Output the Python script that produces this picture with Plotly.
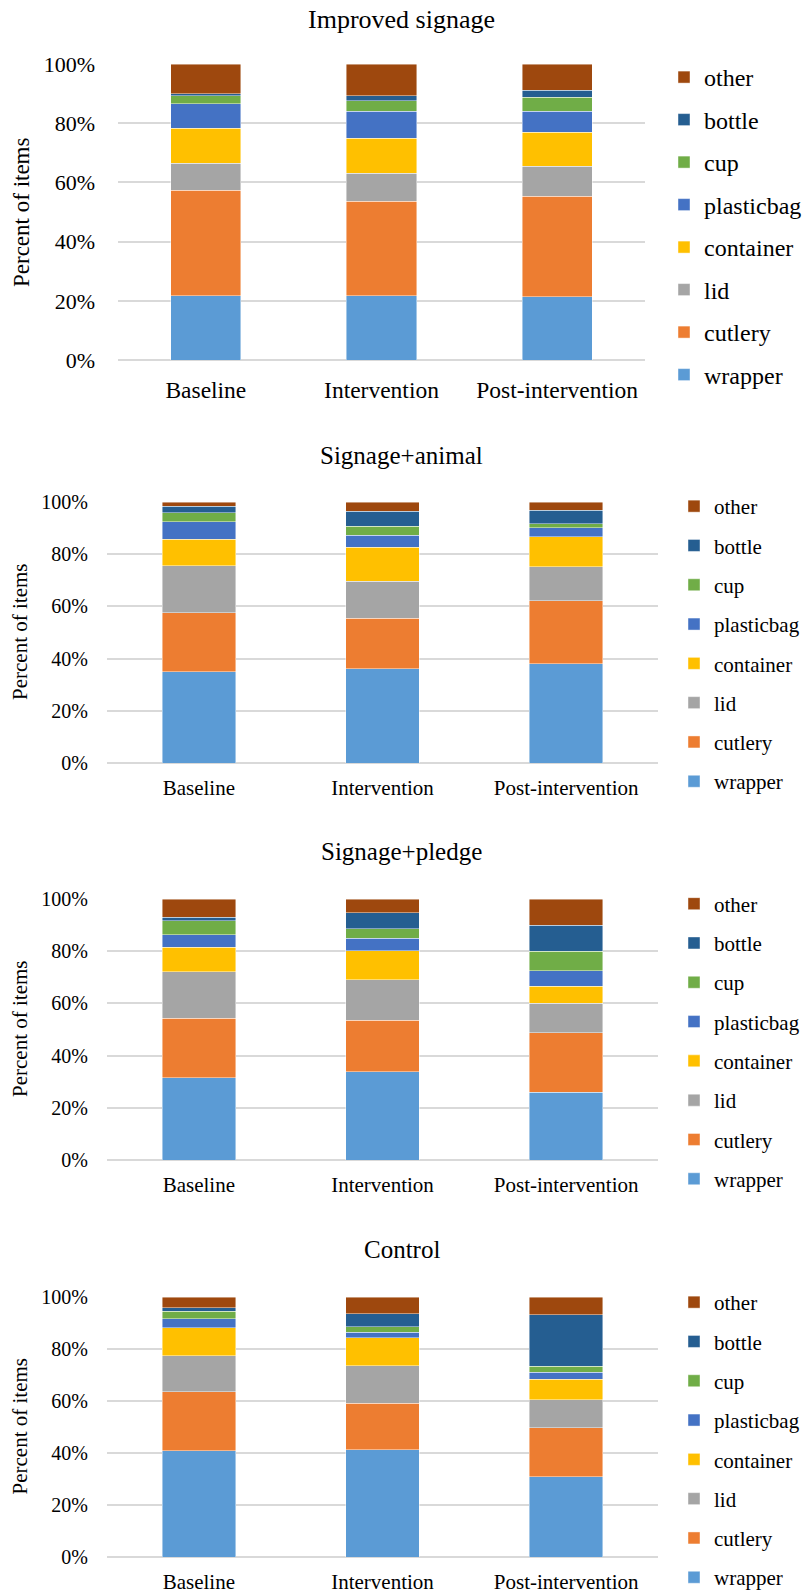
import plotly.graph_objects as go

W, H = 803, 1596

stages = ["Baseline", "Intervention", "Post-intervention"]
series = ["wrapper", "cutlery", "lid", "container", "plasticbag", "cup", "bottle", "other"]
colors = ["#5B9BD5", "#ED7D31", "#A5A5A5", "#FFC000", "#4472C4", "#70AD47", "#255E91", "#9E480E"]

# percent of items, per stage, in the order of `series`
improved_baseline = [21.7, 35.7, 9.1, 11.8, 8.3, 2.6, 0.8, 10.0]
improved_intervention = [21.7, 32.0, 9.4, 11.8, 9.1, 3.6, 1.7, 10.7]
improved_post = [21.3, 34.0, 10.2, 11.5, 7.0, 4.8, 2.4, 8.8]

animal_baseline = [35.0, 22.5, 18.1, 10.2, 6.7, 3.3, 2.5, 1.7]
animal_intervention = [36.2, 19.3, 14.2, 13.0, 4.6, 3.4, 5.8, 3.5]
animal_post = [38.1, 24.0, 13.1, 11.5, 3.5, 1.4, 5.3, 3.1]

pledge_baseline = [31.6, 22.7, 17.8, 9.4, 4.9, 5.3, 1.4, 6.9]
pledge_intervention = [33.9, 19.6, 15.6, 11.0, 4.8, 3.7, 6.2, 5.2]
pledge_post = [26.0, 22.8, 11.2, 6.6, 6.0, 7.3, 10.1, 10.0]

control_baseline = [40.8, 22.8, 13.8, 10.8, 3.4, 2.9, 1.4, 4.1]
control_intervention = [41.3, 17.9, 14.3, 10.8, 2.1, 2.1, 5.0, 6.5]
control_post = [30.9, 18.8, 10.8, 7.8, 2.8, 2.2, 19.9, 6.8]

panel_titles = ["Improved signage", "Signage+animal", "Signage+pledge", "Control"]
panel_data = [
    (improved_baseline, improved_intervention, improved_post),
    (animal_baseline, animal_intervention, animal_post),
    (pledge_baseline, pledge_intervention, pledge_post),
    (control_baseline, control_intervention, control_post),
]

FONT = "Liberation Serif, Times New Roman, serif"


def fx(x):
    return x / W


def fy(y):
    return 1 - y / H


# layout geometry (pixels)
panels = [
    dict(x0=118, x1=645, y0=64, y1=360, ty=20, tick=22, cat=23.5, leg=24, axt=23, tfs=26,
         legx=664, legc=226, gap=8.3, ystand=22, xstand=13, axx=22),
    dict(x0=107, x1=658, y0=502, y1=763, ty=455, tick=20, cat=21, leg=21, axt=21, tfs=25,
         legx=674, legc=644, gap=9, ystand=18, xstand=10, axx=19.5),
    dict(x0=107, x1=658, y0=899, y1=1160, ty=851, tick=20, cat=21, leg=21, axt=21, tfs=25,
         legx=674, legc=1041.5, gap=9, ystand=18, xstand=10, axx=19.5),
    dict(x0=107, x1=658, y0=1297, y1=1557, ty=1249, tick=20, cat=21, leg=21, axt=21, tfs=25,
         legx=674, legc=1440, gap=9, ystand=18, xstand=10, axx=19.5),
]

fig = go.Figure()
annotations = []
layout_extra = {}

for p, (geo, title, data) in enumerate(zip(panels, panel_titles, panel_data)):
    idx = "" if p == 0 else str(p + 1)
    legname = "legend" + idx
    for s, (name, col) in enumerate(zip(series, colors)):
        fig.add_trace(go.Bar(
            x=stages,
            y=[data[k][s] for k in range(3)],
            name=name,
            marker=dict(color=col, line=dict(color="rgba(255,255,255,0.55)", width=0.8)),
            xaxis="x" + idx, yaxis="y" + idx,
            legend=legname,
            legendgroup=f"p{p}_{name}",
            legendrank=100 - s,
            hovertemplate="%{x}<br>" + name + ": %{y:.1f}%<extra></extra>",
        ))
    layout_extra["xaxis" + idx] = dict(
        domain=[fx(geo["x0"]), fx(geo["x1"])],
        anchor="y" + idx,
        showgrid=False, showline=False, zeroline=False,
        tickfont=dict(family=FONT, size=geo["cat"], color="#000000"),
        ticklabelstandoff=geo["xstand"],
        fixedrange=True,
    )
    layout_extra["yaxis" + idx] = dict(
        domain=[fy(geo["y1"]), fy(geo["y0"])],
        anchor="x" + idx,
        range=[0, 100], tick0=0, dtick=20, ticksuffix="%",
        showgrid=True, gridcolor="#D9D9D9", gridwidth=2,
        zeroline=True, zerolinecolor="#D9D9D9", zerolinewidth=2,
        showline=False,
        tickfont=dict(family=FONT, size=geo["tick"], color="#000000"),
        ticklabelstandoff=geo["ystand"],
        fixedrange=True,
    )
    layout_extra[legname] = dict(
        x=fx(geo["legx"]), xanchor="left",
        y=fy(geo["legc"]), yanchor="middle",
        traceorder="grouped",
        tracegroupgap=geo["gap"],
        font=dict(family=FONT, size=geo["leg"], color="#000000"),
        bgcolor="rgba(0,0,0,0)",
    )
    annotations.append(dict(
        text=title, x=0.5, y=fy(geo["ty"]), xref="paper", yref="paper",
        xanchor="center", yanchor="middle", showarrow=False,
        font=dict(family=FONT, size=geo["tfs"], color="#000000"),
    ))
    annotations.append(dict(
        text="Percent of items", x=fx(geo["axx"]), y=fy((geo["y0"] + geo["y1"]) / 2),
        xref="paper", yref="paper", xanchor="center", yanchor="middle",
        textangle=-90, showarrow=False,
        font=dict(family=FONT, size=geo["axt"], color="#000000"),
    ))

fig.update_layout(
    width=W, height=H,
    margin=dict(l=0, r=0, t=0, b=0, autoexpand=False),
    paper_bgcolor="#FFFFFF", plot_bgcolor="#FFFFFF",
    barmode="stack", bargap=0.6,
    showlegend=True,
    annotations=annotations,
    font=dict(family=FONT, color="#000000"),
    **layout_extra,
)

fig.write_html(
    "out.html",
    config={"displayModeBar": False},
    post_script="document.body.style.margin='0';document.body.style.overflow='hidden';",
)
